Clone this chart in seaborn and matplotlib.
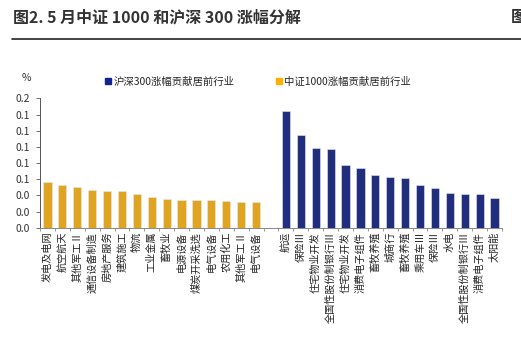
import matplotlib
matplotlib.use("Agg")
import matplotlib.pyplot as plt
import seaborn as sns
import pandas as pd
import numpy as np
from matplotlib.lines import Line2D

# data (percent)
zz1000_inds = ["发电及电网", "航空航天", "其他军工Ⅱ", "通信设备制造", "房地产服务", "建筑施工",
               "物流", "工业金属", "畜牧业", "电源设备", "煤炭开采洗选", "电气设备",
               "农用化工", "其他军工Ⅱ", "电气设备"]
zz1000_vals = [0.057, 0.053, 0.051, 0.047, 0.045, 0.045, 0.042, 0.038, 0.036, 0.034,
               0.034, 0.034, 0.033, 0.032, 0.032]

hs300_inds = ["航运", "保险Ⅲ", "住宅物业开发", "全国性股份制银行Ⅲ", "住宅物业开发", "消费电子组件",
              "畜牧养殖", "城商行", "畜牧养殖", "乘用车Ⅲ", "保险Ⅲ", "水电",
              "全国性股份制银行Ⅲ", "消费电子组件", "太阳能"]
hs300_vals = [0.144, 0.115, 0.099, 0.098, 0.078, 0.074, 0.065, 0.063, 0.061, 0.053,
              0.049, 0.043, 0.042, 0.042, 0.037]

yticks = [0.0, 0.02, 0.04, 0.06, 0.08, 0.10, 0.12, 0.14, 0.16]

ORANGE = "#FFB000"
NAVY = "#11238E"

sns.set_theme(style="white")
plt.rcParams['font.family'] = ['Noto Sans CJK SC', 'DejaVu Sans']
plt.rcParams['axes.unicode_minus'] = False

n1 = len(zz1000_vals)
pos1 = list(range(n1))
pos2 = list(range(n1 + 1, n1 + 1 + len(hs300_vals)))
df = pd.DataFrame({
    "pos": pos1 + pos2,
    "val": zz1000_vals + hs300_vals,
    "grp": ["zz"] * n1 + ["hs"] * len(hs300_vals),
})

fig = plt.figure(figsize=(5.21, 3.62), dpi=100)
ax = fig.add_axes([0.0768, 0.371, 0.8867, 0.357])

sns.barplot(data=df, x="pos", y="val", hue="grp", palette={"zz": ORANGE, "hs": NAVY},
            native_scale=True, dodge=False, width=0.55, legend=False,
            edgecolor="#E8E8F0", linewidth=0.4, ax=ax)

ax.set_xlim(-0.45, pos2[-1] + 0.45)
ax.set_ylim(0, 0.16)
ax.set_yticks(yticks)
ax.set_yticklabels([f"{v:.1f}" for v in yticks])
ax.set_xticks(pos1 + pos2)
ax.set_xticklabels(zz1000_inds + hs300_inds, rotation=90, va="top", ha="center")
ax.set_xticks(np.arange(-0.5, pos2[-1] + 1, 1), minor=True)
ax.tick_params(axis="x", which="major", length=0, pad=3, labelsize=7.3, colors="#222222")
ax.tick_params(axis="x", which="minor", length=2.5, width=0.6, color="#888888", bottom=True)
ax.tick_params(axis="y", length=3, width=0.6, color="#555555", left=True, labelsize=7.5,
               colors="#333333", pad=4.5)
ax.set_xlabel("")
ax.set_ylabel("")
for s in ["top", "right"]:
    ax.spines[s].set_visible(False)
ax.spines["left"].set_color("#555555")
ax.spines["left"].set_linewidth(0.7)
ax.spines["bottom"].set_color("#888888")
ax.spines["bottom"].set_linewidth(0.7)

# unit label
fig.text(22 / 521, 1 - 78 / 362, "%", fontsize=7.5, color="#333333", va="center")

# legend entries (placed as in the reference)
handles = [Line2D([], [], marker="s", color=NAVY, linestyle="", markersize=4.5)]
fig.legend(handles, ["沪深300涨幅贡献居前行业"], loc="center left",
           bbox_to_anchor=(104 / 521, 1 - 82 / 362), frameon=False, fontsize=7.5,
           handletextpad=0.1, handlelength=0.8, borderpad=0, borderaxespad=0)
handles2 = [Line2D([], [], marker="s", color=ORANGE, linestyle="", markersize=4.5)]
fig.legend(handles2, ["中证1000涨幅贡献居前行业"], loc="center left",
           bbox_to_anchor=(275 / 521, 1 - 82 / 362), frameon=False, fontsize=7.5,
           handletextpad=0.1, handlelength=0.8, borderpad=0, borderaxespad=0)

# title and rule below
fig.text(13 / 521, 1 - 17 / 362, "图2. 5 月中证 1000 和沪深 300 涨幅分解", fontsize=11.5,
         fontweight="bold", color="#333333", va="center", ha="left")
fig.text(511 / 521, 1 - 17 / 362, "图", fontsize=11.5, fontweight="bold",
         color="#333333", va="center", ha="left")
fig.add_artist(Line2D([12 / 521, 1.0], [1 - 39 / 362, 1 - 39 / 362],
                      transform=fig.transFigure, color="#222222", linewidth=1.2))

fig.savefig("out.png", dpi=100)
